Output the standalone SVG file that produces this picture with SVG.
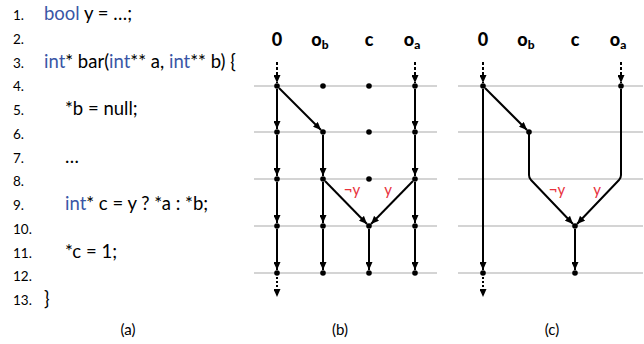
<svg xmlns="http://www.w3.org/2000/svg" width="644" height="344" viewBox="0 0 644 344">
<style>
text{font-family:Lato,"Open Sans","Liberation Sans",sans-serif;fill:#000}
.ln{font-size:13.5px}
.cd{font-size:18.5px}
.kw{fill:#3a56a6}
.hd{font-size:18px;font-weight:900;text-anchor:middle}
.sub{font-size:12px;font-weight:900}
.cap{font-size:15px;text-anchor:middle}
.lbl{font-size:15px;fill:#e8323c;text-anchor:middle}
.grid line{stroke:#d4d4d4;stroke-width:2}
.e{stroke:#000;stroke-width:2;fill:none;marker-end:url(#ah)}
.d{stroke:#000;stroke-width:2;fill:none;stroke-dasharray:3 2;marker-end:url(#ah)}
.dot{stroke:#000;stroke-width:2;fill:none;stroke-dasharray:2 2;marker-end:url(#ah)}
circle{fill:#000}
</style>
<defs>
<marker id="ah" markerUnits="userSpaceOnUse" markerWidth="8" markerHeight="7" refX="8" refY="3.5" orient="auto">
<path d="M0,0 L8,3.5 L0,7 z" fill="#000"/>
</marker>
</defs>

<!-- (a) code -->
<g id="code">
<text class="ln" x="13" y="20">1.</text><text class="cd" x="44" y="20"><tspan class="kw">bool</tspan> y = …;</text>
<text class="ln" x="13" y="44">2.</text>
<text class="ln" x="13" y="68">3.</text><text class="cd" x="44" y="68"><tspan class="kw">int</tspan>* bar(<tspan class="kw">int</tspan>** a, <tspan class="kw">int</tspan>** b) {</text>
<text class="ln" x="13" y="91">4.</text>
<text class="ln" x="13" y="115">5.</text><text class="cd" x="65" y="115">*b = null;</text>
<text class="ln" x="13" y="139">6.</text>
<text class="ln" x="13" y="163">7.</text><text class="cd" x="65" y="163">…</text>
<text class="ln" x="13" y="186">8.</text>
<text class="ln" x="13" y="210">9.</text><text class="cd" x="65" y="210"><tspan class="kw">int</tspan>* c = y ? *a : *b;</text>
<text class="ln" x="13" y="234">10.</text>
<text class="ln" x="13" y="258">11.</text><text class="cd" x="65" y="258">*c = 1;</text>
<text class="ln" x="13" y="281">12.</text>
<text class="ln" x="13" y="305">13.</text><text class="cd" x="44" y="305">}</text>
</g>
<text class="cap" x="128" y="335">(a)</text>
<text class="cap" x="340" y="335">(b)</text>
<text class="cap" x="552" y="335">(c)</text>

<!-- grid lines -->
<g class="grid">
<line x1="254" y1="86" x2="437" y2="86"/>
<line x1="254" y1="132" x2="437" y2="132"/>
<line x1="254" y1="179" x2="437" y2="179"/>
<line x1="254" y1="226" x2="437" y2="226"/>
<line x1="254" y1="273" x2="437" y2="273"/>
<line x1="458" y1="86" x2="643" y2="86"/>
<line x1="458" y1="132" x2="643" y2="132"/>
<line x1="458" y1="179" x2="643" y2="179"/>
<line x1="458" y1="226" x2="643" y2="226"/>
<line x1="458" y1="273" x2="643" y2="273"/>
</g>

<!-- headers -->
<g id="hdr-b">
<text class="hd" x="277" y="46">0</text>
<text class="hd" x="320" y="46">o<tspan class="sub" dy="3">b</tspan></text>
<text class="hd" x="369" y="46">c</text>
<text class="hd" x="412" y="46">o<tspan class="sub" dy="3">a</tspan></text>
</g>
<g id="hdr-c">
<text class="hd" x="483" y="46">0</text>
<text class="hd" x="526" y="46">o<tspan class="sub" dy="3">b</tspan></text>
<text class="hd" x="575" y="46">c</text>
<text class="hd" x="618" y="46">o<tspan class="sub" dy="3">a</tspan></text>
</g>

<!-- connectors -->
<g id="connectors">
<!-- (b) -->
<line class="d" x1="277" y1="62" x2="277" y2="83"/>
<line class="d" x1="415" y1="62" x2="415" y2="83"/>
<line class="e" x1="277" y1="89" x2="277" y2="129"/>
<line class="e" x1="277" y1="135" x2="277" y2="176"/>
<line class="e" x1="277" y1="182" x2="277" y2="223"/>
<line class="e" x1="277" y1="229" x2="277" y2="270"/>
<line class="dot" x1="277" y1="277" x2="277" y2="297"/>
<line class="e" x1="279" y1="88" x2="321" y2="130"/>
<line class="e" x1="323" y1="135" x2="323" y2="176"/>
<line class="e" x1="323" y1="182" x2="323" y2="223"/>
<line class="e" x1="323" y1="229" x2="323" y2="270"/>
<line class="e" x1="325" y1="181" x2="367" y2="224"/>
<line class="e" x1="413" y1="181" x2="371" y2="224"/>
<line class="e" x1="369" y1="229" x2="369" y2="270"/>
<line class="e" x1="415" y1="89" x2="415" y2="129"/>
<line class="e" x1="415" y1="135" x2="415" y2="176"/>
<line class="e" x1="415" y1="182" x2="415" y2="223"/>
<line class="e" x1="415" y1="229" x2="415" y2="270"/>
<!-- (c) -->
<line class="d" x1="483" y1="62" x2="483" y2="83"/>
<line class="d" x1="621" y1="62" x2="621" y2="83"/>
<line class="e" x1="483" y1="89" x2="483" y2="270"/>
<line class="dot" x1="483" y1="277" x2="483" y2="297"/>
<line class="e" x1="485" y1="88" x2="527" y2="130"/>
<path class="e" d="M529,134 V175 Q529,178 531,180 L573,224" style="stroke-linejoin:round"/>
<path class="e" d="M621,89 V175 Q621,178 619,180 L577,224" style="stroke-linejoin:round"/>
<line class="e" x1="575" y1="229" x2="575" y2="270"/>
</g>
<text class="lbl" x="352" y="195">¬y</text>
<text class="lbl" x="388" y="195">y</text>
<text class="lbl" x="557" y="195">¬y</text>
<text class="lbl" x="597" y="195">y</text>

<!-- nodes (b) -->
<g id="b-0-1"><circle cx="277" cy="86" r="2.8"/></g>
<g id="b-0-2"><circle cx="277" cy="132" r="2.8"/></g>
<g id="b-0-3"><circle cx="277" cy="179" r="2.8"/></g>
<g id="b-0-4"><circle cx="277" cy="226" r="2.8"/></g>
<g id="b-0-5"><circle cx="277" cy="273" r="2.8"/></g>
<g id="b-ob-1"><circle cx="323" cy="86" r="2.8"/></g>
<g id="b-ob-2"><circle cx="323" cy="132" r="2.8"/></g>
<g id="b-ob-3"><circle cx="323" cy="179" r="2.8"/></g>
<g id="b-ob-4"><circle cx="323" cy="226" r="2.8"/></g>
<g id="b-ob-5"><circle cx="323" cy="273" r="2.8"/></g>
<g id="b-c-1"><circle cx="369" cy="86" r="2.8"/></g>
<g id="b-c-2"><circle cx="369" cy="132" r="2.8"/></g>
<g id="b-c-3"><circle cx="369" cy="179" r="2.8"/></g>
<g id="b-c-4"><circle cx="369" cy="226" r="2.8"/></g>
<g id="b-c-5"><circle cx="369" cy="273" r="2.8"/></g>
<g id="b-oa-1"><circle cx="415" cy="86" r="2.8"/></g>
<g id="b-oa-2"><circle cx="415" cy="132" r="2.8"/></g>
<g id="b-oa-3"><circle cx="415" cy="179" r="2.8"/></g>
<g id="b-oa-4"><circle cx="415" cy="226" r="2.8"/></g>
<g id="b-oa-5"><circle cx="415" cy="273" r="2.8"/></g>
<!-- nodes (c) -->
<g id="c-0-1"><circle cx="483" cy="86" r="2.8"/></g>
<g id="c-0-5"><circle cx="483" cy="273" r="2.8"/></g>
<g id="c-ob-2"><circle cx="529" cy="132" r="2.8"/></g>
<g id="c-oa-1"><circle cx="621" cy="86" r="2.8"/></g>
<g id="c-c-4"><circle cx="575" cy="226" r="2.8"/></g>
<g id="c-c-5"><circle cx="575" cy="273" r="2.8"/></g>
</svg>
